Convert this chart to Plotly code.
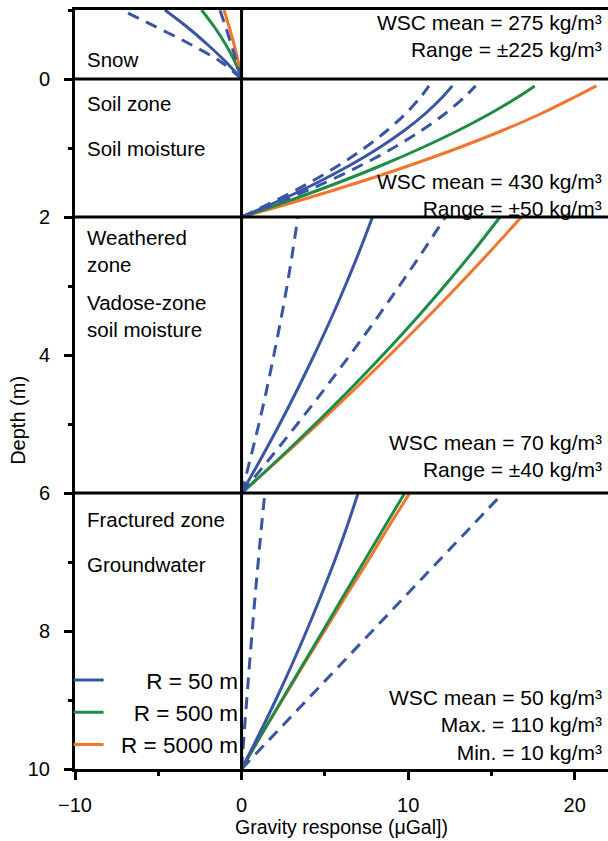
import plotly.graph_objects as go

# ---------------- data ----------------
# depth samples (m) for each zone (bottom of zone -> top of zone)
snow_depth = [0, -0.25, -0.5, -0.75, -1.0]
soil_depth = [2, 1.75, 1.5, 1.25, 1.0, 0.75, 0.5, 0.25, 0.1]
weath_depth = [6, 5.5, 5, 4.5, 4, 3.5, 3, 2.5, 2]
fract_depth = [10, 9.5, 9, 8.5, 8, 7.5, 7, 6.5, 6]

# gravity response (µGal) – snow zone
snow_r50 = [0, -0.95, -2.05, -3.25, -4.6]
snow_r50_hi = [0, -1.25, -3.05, -5.1, -7.2]
snow_r50_lo = [0, -0.3, -0.62, -0.95, -1.3]
snow_r500 = [0, -0.4, -0.95, -1.62, -2.4]
snow_r5000 = [0, -0.2, -0.45, -0.74, -1.05]

# soil zone
soil_r50 = [0, 2.39, 4.56, 6.51, 8.24, 9.75, 11.04, 12.11, 12.65]
soil_r50_lo = [0, 2.15, 4.1, 5.84, 7.38, 8.72, 9.86, 10.79, 11.25]
soil_r50_hi = [0, 2.63, 5.03, 7.18, 9.1, 10.78, 12.23, 13.43, 14.05]
soil_r500 = [0, 3.02, 5.83, 8.42, 10.8, 12.97, 14.93, 16.67, 17.6]
soil_r5000 = [0, 3.63, 7.0, 10.13, 13.0, 15.63, 18.0, 20.1, 21.3]

# weathered zone
weath_r50 = [0, 1.17, 2.29, 3.35, 4.36, 5.32, 6.22, 7.07, 7.86]
weath_r50_lo = [0, 0.53, 1.04, 1.51, 1.94, 2.35, 2.73, 3.07, 3.38]
weath_r50_hi = [0, 1.7, 3.35, 4.96, 6.51, 8.02, 9.47, 10.88, 12.24]
weath_r500 = [0, 2.26, 4.42, 6.5, 8.48, 10.38, 12.18, 13.9, 15.52]
weath_r5000 = [0, 2.32, 4.58, 6.77, 8.9, 10.97, 12.98, 14.92, 16.8]

# fractured zone
fract_r50 = [0, 1.05, 2.05, 3.0, 3.9, 4.75, 5.56, 6.31, 7.0]
fract_r50_lo = [0, 0.15, 0.31, 0.47, 0.64, 0.81, 1.0, 1.19, 1.4]
fract_r50_hi = [0, 1.96, 3.92, 5.89, 7.85, 9.81, 11.77, 13.74, 15.7]
fract_r500 = [0, 1.2, 2.42, 3.65, 4.88, 6.1, 7.33, 8.56, 9.8]
fract_r5000 = [0, 1.2, 2.45, 3.7, 4.98, 6.25, 7.55, 8.8, 10.1]

zone_bounds = [0, 2, 6]          # horizontal boundary depths
legend_names = ["\u2007\u2007\u2007R = 50 m", "\u2007\u2007R = 500 m", "\u2007R = 5000 m"]

left_labels = [
    ("Snow", -0.28), ("Soil zone", 0.35), ("Soil moisture", 1.01),
    ("Weathered<br>zone", 2.49), ("Vadose-zone<br>soil moisture", 3.44),
    ("Fractured zone", 6.39), ("Groundwater", 7.04),
]
right_labels = [
    ("WSC mean = 275 kg/m³<br>Range = ±225 kg/m³", -0.62),
    ("WSC mean = 430 kg/m³<br>Range = ±50 kg/m³", 1.68),
    ("WSC mean = 70 kg/m³<br>Range = ±40 kg/m³", 5.46),
    ("WSC mean = 50 kg/m³<br>Max. = 110 kg/m³<br>Min. = 10 kg/m³", 9.36),
]

BLUE = "#3A55A5"
GREEN = "#1E8C45"
ORANGE = "#F3752B"
FONT = "Arial, 'Liberation Sans', sans-serif"
DASH = "12px,8px"

fig = go.Figure()

zones = [
    (snow_depth, snow_r50, snow_r50_lo, snow_r50_hi, snow_r500, snow_r5000),
    (soil_depth, soil_r50, soil_r50_lo, soil_r50_hi, soil_r500, soil_r5000),
    (weath_depth, weath_r50, weath_r50_lo, weath_r50_hi, weath_r500, weath_r5000),
    (fract_depth, fract_r50, fract_r50_lo, fract_r50_hi, fract_r500, fract_r5000),
]

for zi, (dep, r50, lo, hi, r500, r5000) in enumerate(zones):
    show = zi == 3
    fig.add_trace(go.Scatter(x=r5000, y=dep, mode="lines", line=dict(color=ORANGE, width=3, shape="spline"),
                             name=legend_names[2], legendgroup="c", showlegend=show, legendrank=3))
    fig.add_trace(go.Scatter(x=r500, y=dep, mode="lines", line=dict(color=GREEN, width=3, shape="spline"),
                             name=legend_names[1], legendgroup="b", showlegend=show, legendrank=2))
    fig.add_trace(go.Scatter(x=r50, y=dep, mode="lines", line=dict(color=BLUE, width=3, shape="spline"),
                             name=legend_names[0], legendgroup="a", showlegend=show, legendrank=1))
    for arr in (lo, hi):
        fig.add_trace(go.Scatter(x=arr, y=dep, mode="lines",
                                 line=dict(color=BLUE, width=3, dash=DASH, shape="spline"),
                                 legendgroup="a", showlegend=False))

# zone boundaries and zero line
for d in zone_bounds:
    fig.add_shape(type="line", xref="x", yref="y", x0=-10, x1=22, y0=d, y1=d,
                  line=dict(color="black", width=3))
fig.add_shape(type="line", xref="x", yref="y", x0=0, x1=0, y0=-1, y1=10,
              line=dict(color="black", width=3))

for txt, d in left_labels:
    fig.add_annotation(x=-9.4, y=d, text=txt, showarrow=False, xanchor="left", yanchor="middle",
                       align="left", font=dict(size=20.5, color="black", family=FONT))
for txt, d in right_labels:
    fig.add_annotation(x=21.75, y=d, text=txt, showarrow=False, xanchor="right", yanchor="middle",
                       align="right", font=dict(size=21, color="black", family=FONT))

# y-axis title placed as rotated text
fig.add_annotation(x=-0.107, y=0.46, xref="paper", yref="paper", text="Depth (m)", textangle=-90,
                   showarrow=False, xanchor="center", yanchor="middle",
                   font=dict(size=20, color="black", family=FONT))

fig.update_layout(
    width=608, height=841,
    margin=dict(l=75, r=0, t=10, b=72),
    paper_bgcolor="white", plot_bgcolor="white",
    font=dict(family=FONT, color="black", size=19),
    showlegend=True,
    legend=dict(x=-0.012, y=0.145, xanchor="left", yanchor="top", bgcolor="rgba(0,0,0,0)",
                font=dict(size=22.5, family=FONT), itemwidth=30, tracegroupgap=0),
    xaxis=dict(range=[-10, 22], showline=True, linewidth=3, linecolor="black", mirror=True,
               ticks="outside", ticklen=8, tickwidth=3, tickcolor="black",
               tick0=0, dtick=10, tickformat="d", ticklabelstandoff=8,
               minor=dict(dtick=5, tick0=0, ticks="outside", ticklen=4, tickwidth=3, tickcolor="black"),
               showgrid=False, zeroline=False, tickfont=dict(size=20),
               title=dict(text="Gravity response (μGal])", font=dict(size=19.5), standoff=4)),
    yaxis=dict(range=[10, -1], showline=True, linewidth=3, linecolor="black", mirror=False,
               ticks="outside", ticklen=8, tickwidth=3, tickcolor="black",
               tick0=0, dtick=2, ticklabelstandoff=10,
               minor=dict(dtick=1, tick0=0, ticks="outside", ticklen=4, tickwidth=3, tickcolor="black"),
               showgrid=False, zeroline=False, tickfont=dict(size=20)),
)

fig.write_html("out.html")
